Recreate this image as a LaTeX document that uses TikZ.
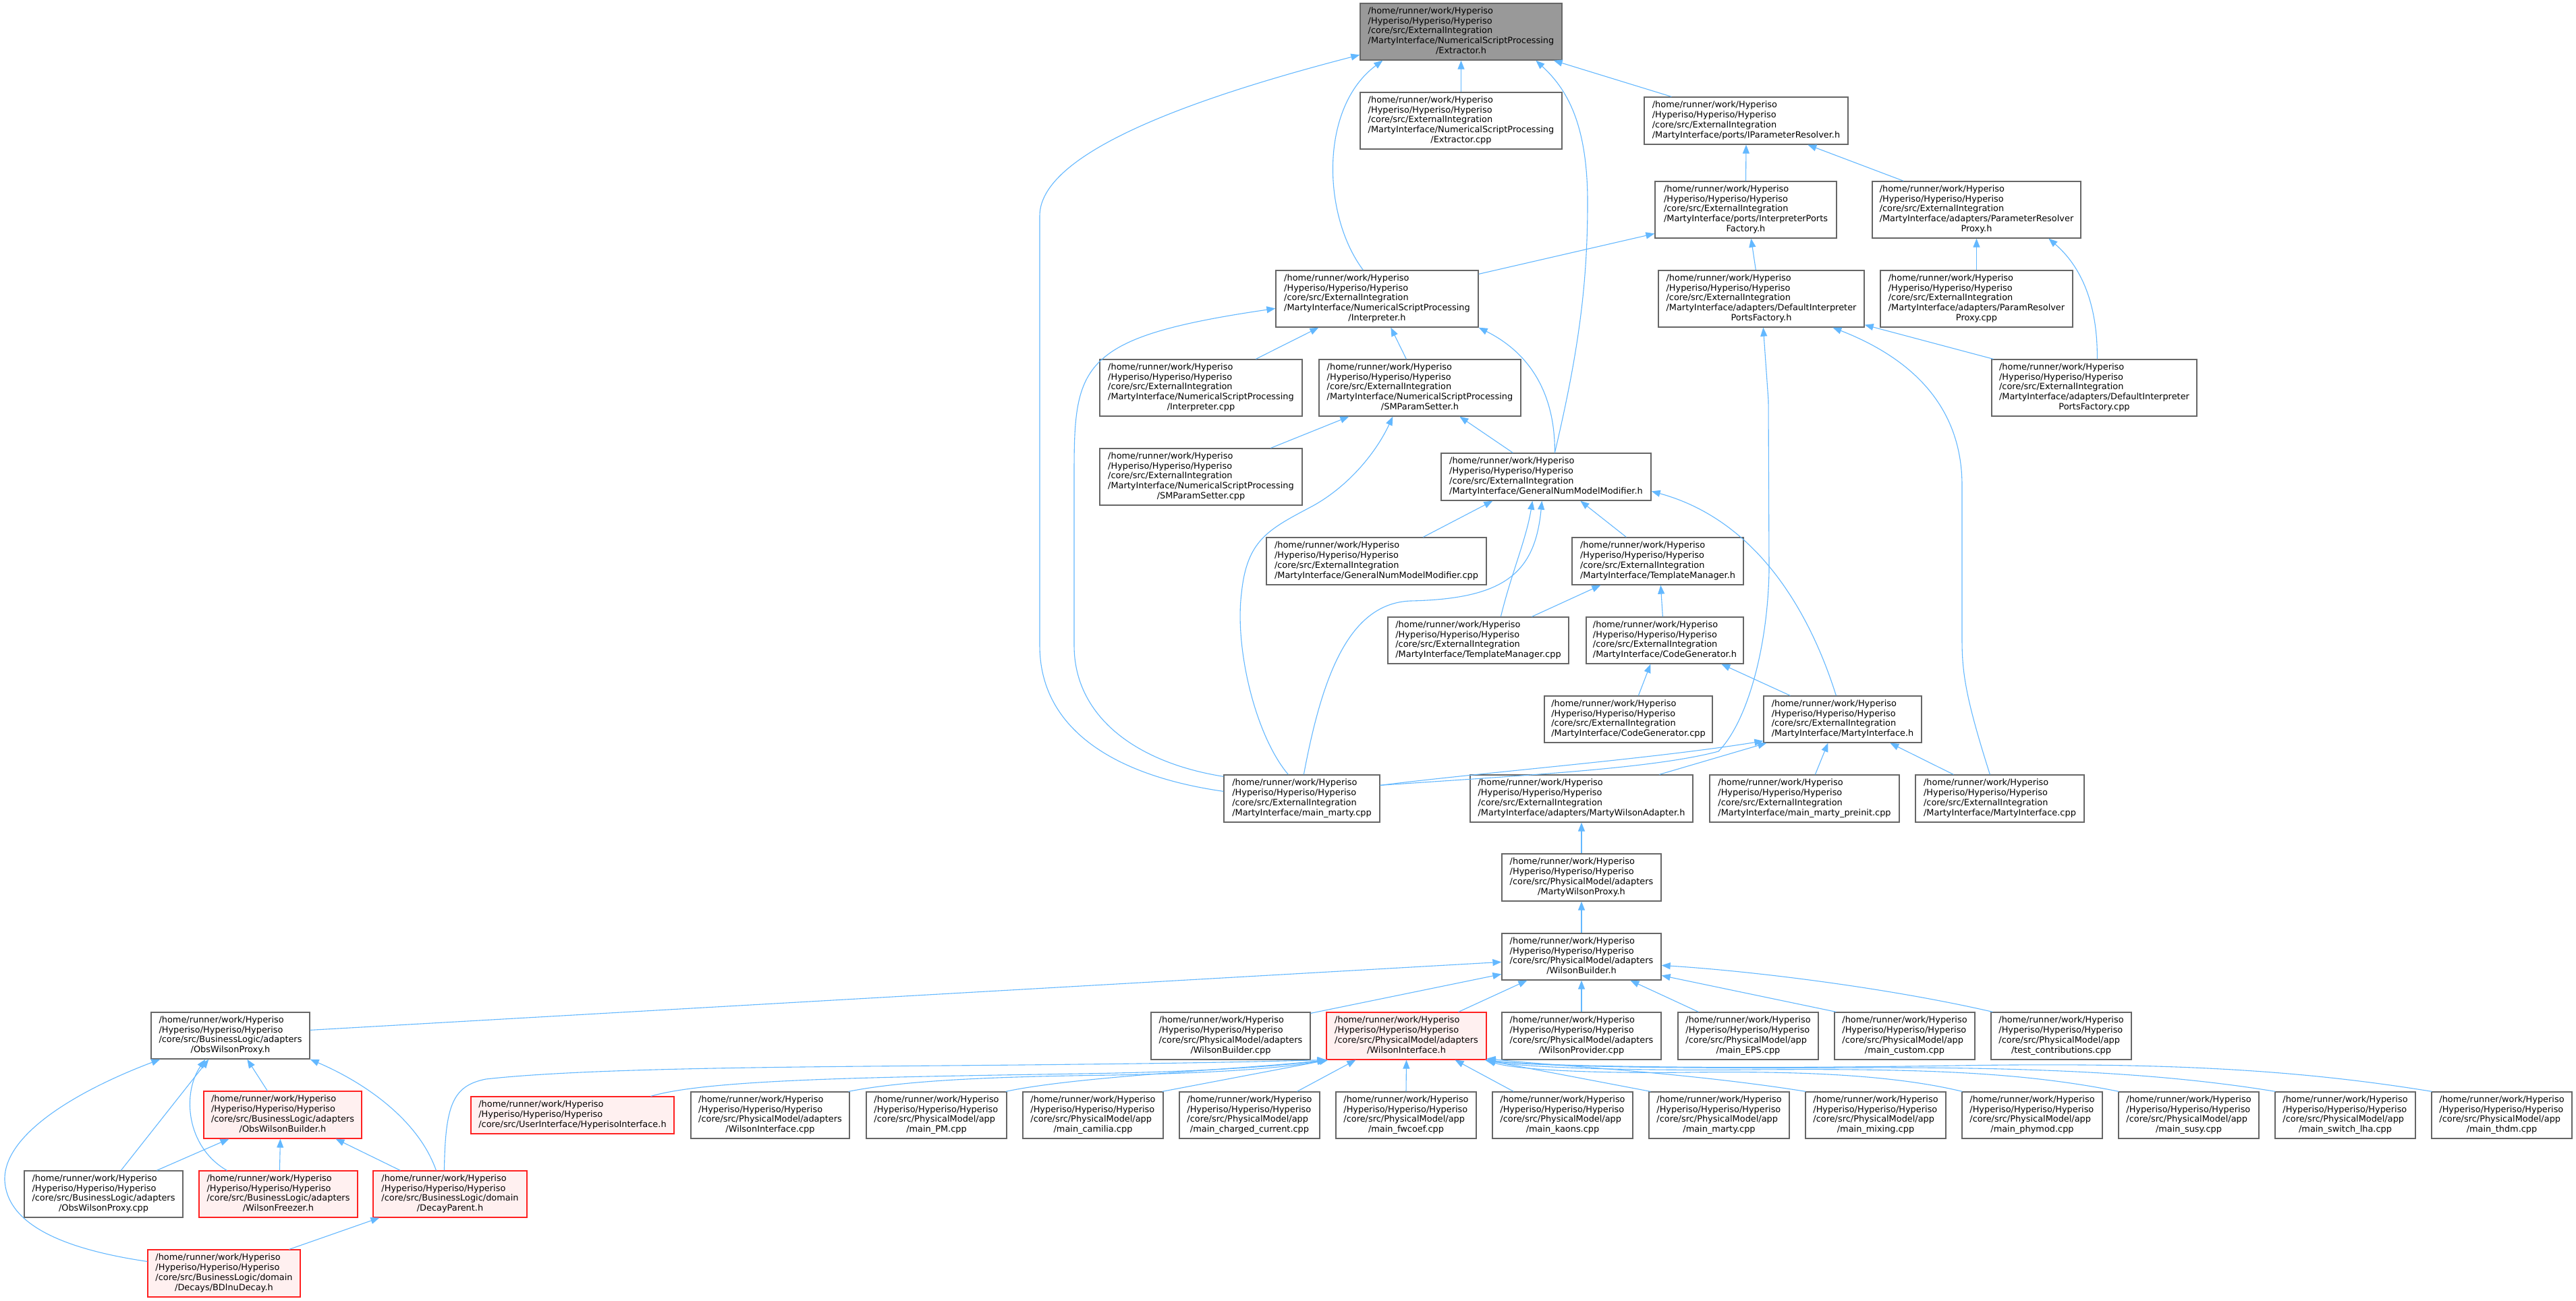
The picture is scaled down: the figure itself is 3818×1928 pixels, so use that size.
\documentclass[tikz,border=0pt]{standalone}
\usepackage{fontspec}
\setmainfont{DejaVu Sans}
\usetikzlibrary{arrows.meta}
\definecolor{edgec}{HTML}{63B8FF}
\definecolor{cforty}{HTML}{666666}
\definecolor{csixty}{HTML}{999999}
\definecolor{pinkf}{HTML}{FFF0F0}
\definecolor{redb}{HTML}{FF2020}
\newcommand{\dx}[2]{\begin{tabular}{@{}l@{}}#1\\\multicolumn{1}{@{}c@{}}{#2}\end{tabular}}
\newcommand{\LpA}{/home/runner/work/Hyperiso\\/Hyperiso/Hyperiso/Hyperiso}
\newcommand{\LpE}{\LpA\\/core/src/ExternalIntegration}
\newcommand{\LpN}{\LpE\\/MartyInterface/NumericalScriptProcessing}
\newcommand{\LpPA}{\LpA\\/core/src/PhysicalModel/adapters}
\newcommand{\LpPP}{\LpA\\/core/src/PhysicalModel/app}
\newcommand{\LpBA}{\LpA\\/core/src/BusinessLogic/adapters}
\newcommand{\LpBD}{\LpA\\/core/src/BusinessLogic/domain}
\newcommand{\MkNode}[8]{\node[#2, minimum width={(#5-#3)*1pt}, minimum height={(#6-#4)*1pt}] (#1) at ({(#3+#5)/2},{(#4+#6)/2}) {\dx{#7}{#8}};}
\tikzset{
  nd/.style={draw=cforty, fill=white, line width=1.3pt, inner sep=0pt, font=\fontsize{12.9}{14.8}\selectfont},
  root/.style={nd, fill=csixty},
  trunc/.style={nd, draw=redb, line width=1.1pt, fill=pinkf},
  ed/.style={draw=edgec, line width=1.1pt, -{Triangle[length=13pt,width=10pt]}},
}
\begin{document}
\begin{tikzpicture}[x=1pt,y=-1pt]
\fill[white] (0,0) rectangle (3818,1928);
\useasboundingbox (0,0) rectangle (3818,1928);
% nodes
\MkNode{E}{root}{2016}{5}{2315}{89}{\LpN}{/Extractor.h}
\MkNode{Ecpp}{nd}{2016}{137}{2315}{221}{\LpN}{/Extractor.cpp}
\MkNode{IPR}{nd}{2437}{144}{2739}{214}{\LpE}{/MartyInterface/ports/IParameterResolver.h}
\MkNode{IPF}{nd}{2453}{269}{2722}{353}{\LpE\\/MartyInterface/ports/InterpreterPorts}{Factory.h}
\MkNode{PRP}{nd}{2775}{269}{3084}{353}{\LpE\\/MartyInterface/adapters/ParameterResolver}{Proxy.h}
\MkNode{Int}{nd}{1891}{401}{2191}{485}{\LpN}{/Interpreter.h}
\MkNode{DIPF}{nd}{2458}{401}{2763}{485}{\LpE\\/MartyInterface/adapters/DefaultInterpreter}{PortsFactory.h}
\MkNode{PRPcpp}{nd}{2787}{401}{3072}{485}{\LpE\\/MartyInterface/adapters/ParamResolver}{Proxy.cpp}
\MkNode{Intcpp}{nd}{1630}{533}{1930}{617}{\LpN}{/Interpreter.cpp}
\MkNode{SMP}{nd}{1955}{533}{2254}{617}{\LpN}{/SMParamSetter.h}
\MkNode{DIPFcpp}{nd}{2952}{533}{3256}{617}{\LpE\\/MartyInterface/adapters/DefaultInterpreter}{PortsFactory.cpp}
\MkNode{SMPcpp}{nd}{1630}{665}{1930}{749}{\LpN}{/SMParamSetter.cpp}
\MkNode{GNMM}{nd}{2136}{672}{2447}{742}{\LpE}{/MartyInterface/GeneralNumModelModifier.h}
\MkNode{GNMMcpp}{nd}{1877}{797}{2203}{867}{\LpE}{/MartyInterface/GeneralNumModelModifier.cpp}
\MkNode{TMh}{nd}{2330}{797}{2584}{867}{\LpE}{/MartyInterface/TemplateManager.h}
\MkNode{TMcpp}{nd}{2057}{915}{2325}{984}{\LpE}{/MartyInterface/TemplateManager.cpp}
\MkNode{CG}{nd}{2351}{915}{2584}{984}{\LpE}{/MartyInterface/CodeGenerator.h}
\MkNode{CGcpp}{nd}{2289}{1032}{2538}{1101}{\LpE}{/MartyInterface/CodeGenerator.cpp}
\MkNode{MI}{nd}{2614}{1032}{2848}{1101}{\LpE}{/MartyInterface/MartyInterface.h}
\MkNode{mmExt}{nd}{1814}{1149}{2045}{1219}{\LpE}{/MartyInterface/main\_marty.cpp}
\MkNode{MWA}{nd}{2179}{1149}{2509}{1219}{\LpE}{/MartyInterface/adapters/MartyWilsonAdapter.h}
\MkNode{preinit}{nd}{2534}{1149}{2815}{1219}{\LpE}{/MartyInterface/main\_marty\_preinit.cpp}
\MkNode{MIcpp}{nd}{2839}{1149}{3089}{1219}{\LpE}{/MartyInterface/MartyInterface.cpp}
\MkNode{MWP}{nd}{2226}{1266}{2462}{1336}{\LpPA}{/MartyWilsonProxy.h}
\MkNode{WB}{nd}{2226}{1384}{2462}{1453}{\LpPA}{/WilsonBuilder.h}
\MkNode{WBcpp}{nd}{1706}{1501}{1942}{1571}{\LpPA}{/WilsonBuilder.cpp}
\MkNode{WI}{trunc}{1966}{1501}{2203}{1571}{\LpPA}{/WilsonInterface.h}
\MkNode{WProv}{nd}{2226}{1501}{2462}{1571}{\LpPA}{/WilsonProvider.cpp}
\MkNode{EPS}{nd}{2487}{1501}{2695}{1571}{\LpPP}{/main\_EPS.cpp}
\MkNode{custom}{nd}{2719}{1501}{2927}{1571}{\LpPP}{/main\_custom.cpp}
\MkNode{testc}{nd}{2951}{1501}{3159}{1571}{\LpPP}{/test\_contributions.cpp}
\MkNode{OWP}{nd}{224}{1501}{459}{1570}{\LpBA}{/ObsWilsonProxy.h}
\MkNode{OWB}{trunc}{302}{1618}{536}{1688}{\LpBA}{/ObsWilsonBuilder.h}
\MkNode{HI}{trunc}{698}{1626}{999}{1681}{\LpA}{/core/src/UserInterface/HyperisoInterface.h}
\MkNode{WIcpp}{nd}{1024}{1619}{1259}{1688}{\LpPA}{/WilsonInterface.cpp}
\MkNode{PM}{nd}{1284}{1619}{1492}{1688}{\LpPP}{/main\_PM.cpp}
\MkNode{camilia}{nd}{1516}{1619}{1724}{1688}{\LpPP}{/main\_camilia.cpp}
\MkNode{charged}{nd}{1748}{1619}{1956}{1688}{\LpPP}{/main\_charged\_current.cpp}
\MkNode{fwcoef}{nd}{1980}{1619}{2188}{1688}{\LpPP}{/main\_fwcoef.cpp}
\MkNode{kaons}{nd}{2212}{1619}{2420}{1688}{\LpPP}{/main\_kaons.cpp}
\MkNode{martyapp}{nd}{2444}{1619}{2652}{1688}{\LpPP}{/main\_marty.cpp}
\MkNode{mixing}{nd}{2676}{1619}{2884}{1688}{\LpPP}{/main\_mixing.cpp}
\MkNode{phymod}{nd}{2908}{1619}{3116}{1688}{\LpPP}{/main\_phymod.cpp}
\MkNode{susy}{nd}{3140}{1619}{3348}{1688}{\LpPP}{/main\_susy.cpp}
\MkNode{switch}{nd}{3372}{1619}{3580}{1688}{\LpPP}{/main\_switch\_lha.cpp}
\MkNode{thdm}{nd}{3604}{1619}{3812}{1688}{\LpPP}{/main\_thdm.cpp}
\MkNode{OWPcpp}{nd}{36}{1736}{271}{1805}{\LpBA}{/ObsWilsonProxy.cpp}
\MkNode{WF}{trunc}{295}{1736}{530}{1805}{\LpBA}{/WilsonFreezer.h}
\MkNode{DP}{trunc}{553}{1736}{781}{1805}{\LpBD}{/DecayParent.h}
\MkNode{BDlnu}{trunc}{219}{1853}{445}{1923}{\LpBD}{/Decays/BDlnuDecay.h}
% edges to Extractor.h
\draw[ed] (Ecpp.north) -- (E.south);
\draw[ed] ([xshift=41pt]IPR.north west) -- ([xshift=-13pt]E.south east);
\draw[ed] ([xshift=130pt]Int.north west) .. controls (1960,320) and (1955,160) .. ([xshift=34pt]E.south west);
\draw[ed] ([xshift=169pt]GNMM.north west) .. controls (2340,520) and (2353,420) .. (2353,300) .. controls (2353,180) and (2320,130) .. ([xshift=261pt]E.south west);
\draw[ed] ([yshift=-25pt]mmExt.north west) .. controls (1650,1150) and (1541,1080) .. (1541,957) -- (1541,320) .. controls (1541,230) and (1750,150) .. ([yshift=-77pt]E.north west);
% IParameterResolver.h
\draw[ed] (IPF.north) -- (IPR.south);
\draw[ed] ([xshift=47pt]PRP.north west) -- ([xshift=243pt]IPR.south west);
% InterpreterPortsFactory.h
\draw[ed] ([yshift=-6pt]Int.north east) -- ([yshift=-78pt]IPF.north west);
\draw[ed] ([xshift=145pt]DIPF.north west) -- ([xshift=143pt]IPF.south west);
% ParameterResolverProxy.h
\draw[ed] (PRPcpp.north) -- (PRP.south);
\draw[ed] ([xshift=157pt]DIPFcpp.north west) .. controls (3109,460) and (3090,400) .. ([xshift=262pt]PRP.south west);
% DefaultInterpreterPortsFactory.h
\draw[ed] ([xshift=3pt]DIPFcpp.north west) -- ([yshift=4pt]DIPF.south east);
\draw[ed] ([yshift=-16pt]mmExt.north east) .. controls (2250,1150) and (2450,1140) .. (2547,1114) .. controls (2590,1070) and (2620,960) .. (2622,846) -- (2621,594) -- ([xshift=156pt]DIPF.south west);
\draw[ed] ([xshift=111pt]MIcpp.north west) .. controls (2915,1040) and (2908,1000) .. (2908,950) -- (2908,720) .. controls (2908,600) and (2830,530) .. ([xshift=259pt]DIPF.south west);
% Interpreter.h
\draw[ed] ([xshift=232pt]Intcpp.north west) -- ([xshift=64pt]Int.south west);
\draw[ed] ([xshift=130pt]SMP.north west) -- ([xshift=171pt]Int.south west);
\draw[ed] ([xshift=169pt]GNMM.north west) .. controls (2305,600) and (2280,530) .. (Int.south east);
\draw[ed] ([yshift=-3pt]mmExt.north west) .. controls (1680,1130) and (1592,1060) .. (1592,957) -- (1592,702) .. controls (1592,540) and (1600,500) .. ([yshift=-57pt]Int.north west);
% SMParamSetter.h
\draw[ed] ([xshift=254pt]SMPcpp.north west) -- ([xshift=45pt]SMP.south west);
\draw[ed] ([xshift=107pt]GNMM.north west) -- ([xshift=209pt]SMP.south west);
\draw[ed] ([xshift=96pt]mmExt.north west) .. controls (1860,1090) and (1830,960) .. (1840,880) .. controls (1848,800) and (1880,785) .. (1946,750) .. controls (2000,720) and (2040,670) .. ([xshift=110pt]SMP.south west);
% GeneralNumModelModifier.h
\draw[ed] ([xshift=233pt]GNMMcpp.north west) -- ([xshift=77pt]GNMM.south west);
\draw[ed] ([xshift=168pt]TMcpp.north west) .. controls (2240,850) and (2262,800) .. ([xshift=136pt]GNMM.south west);
\draw[ed] ([xshift=81pt]TMh.north west) -- ([xshift=207pt]GNMM.south west);
\draw[ed] ([xshift=108pt]MI.north west) .. controls (2680,900) and (2600,770) .. ([yshift=-57pt]GNMM.north east);
\draw[ed] ([xshift=119pt]mmExt.north west) .. controls (1960,1000) and (2000,895) .. (2090,891) .. controls (2230,888) and (2275,850) .. ([xshift=150pt]GNMM.south west);
% TemplateManager.h
\draw[ed] ([xshift=214pt]TMcpp.north west) -- ([xshift=43pt]TMh.south west);
\draw[ed] ([xshift=114pt]CG.north west) -- ([xshift=132pt]TMh.south west);
% CodeGenerator.h
\draw[ed] ([xshift=140pt]CGcpp.north west) -- ([xshift=96pt]CG.south west);
\draw[ed] ([xshift=40pt]MI.north west) -- ([xshift=201pt]CG.south west);
% MartyInterface.h
\draw[ed] ([yshift=-16pt]mmExt.north east) .. controls (2200,1145) and (2450,1125) .. ([yshift=3pt]MI.south west);
\draw[ed] ([xshift=281pt]MWA.north west) -- ([xshift=5pt]MI.south west);
\draw[ed] ([xshift=157pt]preinit.north west) -- ([xshift=96pt]MI.south west);
\draw[ed] ([xshift=57pt]MIcpp.north west) -- ([xshift=188pt]MI.south west);
% MartyWilsonAdapter / Proxy
\draw[ed] (MWP.north) -- (MWA.south);
\draw[ed] (WB.north) -- (MWP.south);
% WilsonBuilder.h
\draw[ed] ([yshift=-27pt]OWP.north east) -- ([yshift=-43pt]WB.north west);
\draw[ed] ([yshift=-2pt]WBcpp.north east) -- ([yshift=-61pt]WB.north west);
\draw[ed] ([xshift=196pt]WI.north west) -- ([xshift=38pt]WB.south west);
\draw[ed] (WProv.north) -- (WB.south);
\draw[ed] ([xshift=31pt]EPS.north west) -- ([xshift=191pt]WB.south west);
\draw[ed] ([xshift=3pt]custom.north west) -- ([yshift=-63pt]WB.north east);
\draw[ed] ([xshift=3pt]testc.north west) .. controls (2800,1465) and (2600,1440) .. ([yshift=-48pt]WB.north east);
% WilsonInterface.h
\draw[ed] ([xshift=267pt]HI.north west) .. controls (1050,1600) and (1300,1597) .. (1600,1592) .. controls (1800,1589) and (1900,1580) .. (WI.south west);
\draw[ed] ([xshift=-2pt]WIcpp.north east) .. controls (1350,1600) and (1500,1596) .. (1650,1594) .. controls (1850,1590) and (1920,1580) .. (WI.south west);
\draw[ed] ([xshift=106pt]DP.north west) .. controls (660,1640) and (670,1610) .. (720,1600) .. controls (900,1580) and (1300,1582) .. (1600,1578) .. controls (1800,1576) and (1900,1573) .. (WI.south west);
\draw[ed] ([xshift=-2pt]PM.north east) .. controls (1600,1595) and (1850,1585) .. (WI.south west);
\draw[ed] ([xshift=-2pt]camilia.north east) -- ([xshift=3pt]WI.south west);
\draw[ed] ([xshift=175pt]charged.north west) -- ([xshift=44pt]WI.south west);
\draw[ed] (fwcoef.north) -- (WI.south);
\draw[ed] ([xshift=32pt]kaons.north west) -- ([xshift=191pt]WI.south west);
\draw[ed] ([xshift=3pt]martyapp.north west) -- ([xshift=-3pt]WI.south east);
\draw[ed] ([xshift=1pt]mixing.north west) .. controls (2500,1590) and (2300,1580) .. ([yshift=2pt]WI.south east);
\draw[ed] ([xshift=1pt]phymod.north west) .. controls (2800,1592) and (2650,1588) .. (2500,1590) .. controls (2350,1592) and (2240,1585) .. (WI.south east);
\draw[ed] ([xshift=1pt]susy.north west) .. controls (3000,1590) and (2850,1584) .. (2600,1586) .. controls (2400,1588) and (2250,1582) .. (WI.south east);
\draw[ed] ([xshift=1pt]switch.north west) .. controls (3200,1590) and (3000,1582) .. (2750,1583) .. controls (2450,1585) and (2260,1580) .. (WI.south east);
\draw[ed] ([xshift=1pt]thdm.north west) .. controls (3400,1585) and (3200,1575) .. (2900,1580) .. controls (2500,1586) and (2270,1580) .. (WI.south east);
% ObsWilsonProxy.h and friends
\draw[ed] ([yshift=-18pt]BDlnu.north west) .. controls (80,1850) and (10,1810) .. (7,1750) .. controls (5,1680) and (120,1615) .. ([xshift=14pt]OWP.south west);
\draw[ed] ([xshift=144pt]OWPcpp.north west) -- ([xshift=86pt]OWP.south west);
\draw[ed] ([xshift=42pt]WF.north west) .. controls (275,1700) and (270,1620) .. ([xshift=81pt]OWP.south west);
\draw[ed] ([xshift=95pt]OWB.north west) -- ([xshift=143pt]OWP.south west);
\draw[ed] ([xshift=94pt]DP.north west) .. controls (620,1660) and (540,1605) .. (OWP.south east);
\draw[ed] ([xshift=197pt]OWPcpp.north west) -- ([xshift=38pt]OWB.south west);
\draw[ed] ([xshift=120pt]WF.north west) -- ([xshift=114pt]OWB.south west);
\draw[ed] ([xshift=41pt]DP.north west) -- ([xshift=196pt]OWB.south west);
\draw[ed] ([xshift=210pt]BDlnu.north west) -- ([xshift=10pt]DP.south west);
\end{tikzpicture}
\end{document}
